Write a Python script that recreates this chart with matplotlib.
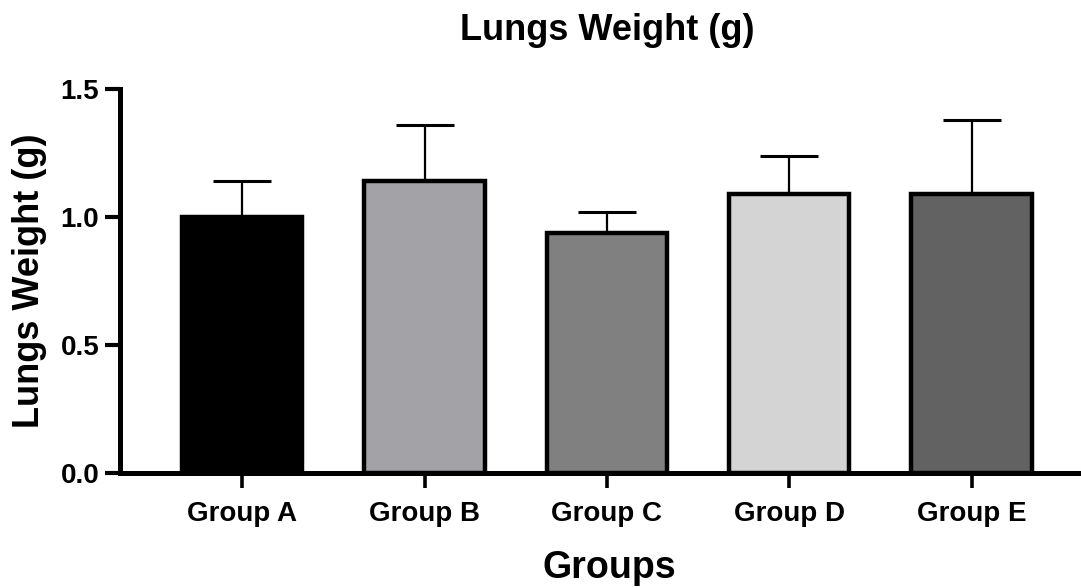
import matplotlib.pyplot as plt

# data
groups = ['Group A', 'Group B', 'Group C', 'Group D', 'Group E']
means = [1.00, 1.14, 0.94, 1.09, 1.09]
errors = [0.14, 0.22, 0.08, 0.15, 0.29]
colors = ['#000000', '#a3a2a7', '#808080', '#d4d4d4', '#626262']

plt.rcParams['font.family'] = ['Liberation Sans', 'DejaVu Sans']
plt.rcParams['font.weight'] = 'bold'

fig = plt.figure(figsize=(10.81, 5.88), dpi=100)
ax = fig.add_axes([0.111, 0.1956, 0.889, 0.6524])

x = list(range(len(groups)))
ax.bar(x, means, width=0.66, color=colors, edgecolor='black', linewidth=3.2, zorder=2)
ax.errorbar(x, means, yerr=[[0] * len(errors), errors], fmt='none', ecolor='black',
            elinewidth=1.6, capsize=21, capthick=2.2, zorder=1)

ax.set_xlim(-0.67, 4.6)
ax.set_ylim(0, 1.5)
ax.set_yticks([0, 0.5, 1.0, 1.5])
ax.set_yticklabels(['0.0', '0.5', '1.0', '1.5'])
ax.set_xticks(x)
ax.set_xticklabels(groups)

for s in ['top', 'right']:
    ax.spines[s].set_visible(False)
for s in ['left', 'bottom']:
    ax.spines[s].set_linewidth(3.6)

ax.tick_params(axis='y', length=11, width=3, labelsize=20, pad=4)
ax.tick_params(axis='x', length=11, width=2.6, labelsize=20, pad=9)
for lbl in ax.get_xticklabels() + ax.get_yticklabels():
    lbl.set_fontweight('bold')

ax.set_ylabel('Lungs Weight (g)', fontsize=26, fontweight='bold', labelpad=10)
fig.text(0.5635, 0.034, 'Groups', ha='center', va='center', fontsize=27, fontweight='bold')
fig.text(0.5615, 0.948, 'Lungs Weight (g)', ha='center', va='center', fontsize=26, fontweight='bold')

plt.savefig('out.png', dpi=100)
